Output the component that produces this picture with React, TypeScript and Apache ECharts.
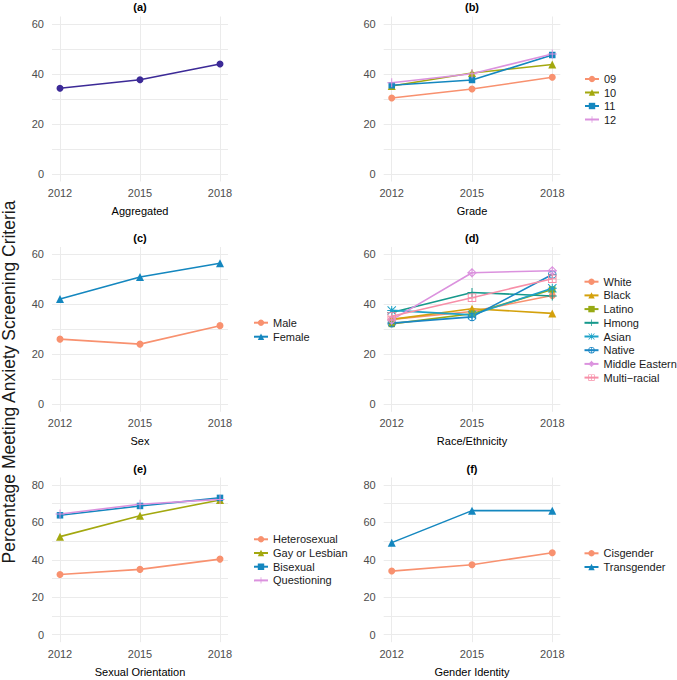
import React, { useEffect, useRef } from "react";
import * as echarts from "echarts";

// ---------- data ----------
const years = [2012, 2015, 2018];
const yLabels60 = [0, 20, 40, 60];
const yLabels80 = [0, 20, 40, 60, 80];
const yGrid60 = [0, 10, 20, 30, 40, 50, 60];
const yGrid80 = [0, 10, 20, 30, 40, 50, 60, 70, 80];

const aggregated = [34.3, 37.7, 44.0];

const gradeNames = ["09", "10", "11", "12"];
const grade09 = [30.4, 34.0, 38.7];
const grade10 = [35.2, 40.4, 43.8];
const grade11 = [35.5, 37.6, 47.6];
const grade12 = [36.5, 40.1, 48.0];

const sexNames = ["Male", "Female"];
const male = [26.1, 24.1, 31.5];
const female = [42.2, 51.0, 56.5];

const raceNames = ["White", "Black", "Latino", "Hmong", "Asian", "Native", "Middle Eastern", "Multi\u2212racial"];
const white = [34.0, 37.2, 43.6];
const black = [34.0, 38.3, 36.4];
const latino = [32.2, 36.3, 46.0];
const hmong = [36.8, 44.8, 43.4];
const asian = [37.6, 35.8, 46.5];
const native = [32.5, 35.0, 52.0];
const middleEastern = [33.8, 52.7, 53.5];
const multiRacial = [35.3, 42.7, 50.3];

const orientNames = ["Heterosexual", "Gay or Lesbian", "Bisexual", "Questioning"];
const heterosexual = [32.2, 34.9, 40.4];
const gayLesbian = [52.4, 63.6, 72.0];
const bisexual = [63.8, 68.8, 73.1];
const questioning = [64.5, 69.7, 72.3];

const genderNames = ["Cisgender", "Transgender"];
const cisgender = [34.0, 37.4, 43.8];
const transgender = [49.2, 66.3, 66.3];

const panelTitles = ["(a)", "(b)", "(c)", "(d)", "(e)", "(f)"];
const axisNames = ["Aggregated", "Grade", "Sex", "Race/Ethnicity", "Sexual Orientation", "Gender Identity"];
const yTitle = "Percentage Meeting Anxiety Screening Criteria";

// ---------- styles ----------
const FONT = '"Liberation Sans", Arial, Helvetica, sans-serif';
const PURPLE = "#3c2a97";
const SALMON = "#f8916f";
const OLIVE = "#a3a80f";
const BLUE = "#1487bf";
const VIOLET = "#db92de";
const GOLD = "#d4a10c";
const LGREEN = "#97aa14";
const TEAL = "#16998c";
const CYAN = "#1ca2c8";
const NBLUE = "#1a87c5";
const PINK = "#f78fa8";
const GRID = "#ebebeb";

const PLUS = "M8.9,0H11.1V8.9H20V11.1H11.1V20H8.9V11.1H0V8.9H8.9Z";
const SYM_PLUS = "path://" + PLUS;
const SYM_STAR =
  "path://" + PLUS + "M1.56,0L20,18.44L18.44,20L0,1.56ZM18.44,0L20,1.56L1.56,20L0,18.44Z";
const SYM_CPLUS =
  "path://M10,0A10,10,0,1,1,10,20A10,10,0,1,1,10,0ZM10,2.2A7.8,7.8,0,1,0,10,17.8A7.8,7.8,0,1,0,10,2.2Z" + PLUS;
const SYM_DPLUS = "path://M10,0L20,10L10,20L0,10ZM10,3.11L3.11,10L10,16.89L16.89,10Z" + PLUS;
const SYM_SPLUS = "path://M0,0H20V20H0ZM2.2,2.2V17.8H17.8V2.2Z" + PLUS;

const SHAPES: Record<string, [string, number]> = {
  circle: ["circle", 7],
  triangle: ["triangle", 8],
  square: ["rect", 6.5],
  plus: [SYM_PLUS, 9],
  star: [SYM_STAR, 9],
  cplus: [SYM_CPLUS, 8.5],
  dplus: [SYM_DPLUS, 9.5],
  splus: [SYM_SPLUS, 8.5],
};

const grids = [
  { left: 52, top: 16.5, width: 176, height: 165 },
  { left: 383.7, top: 16.5, width: 176.6, height: 165 },
  { left: 52, top: 247, width: 176, height: 164.8 },
  { left: 383.7, top: 247, width: 176.6, height: 164.8 },
  { left: 52, top: 477.5, width: 176, height: 164.7 },
  { left: 383.7, top: 477.5, width: 176.6, height: 164.7 },
];

function mkSeries(name: string, values: number[], idx: number, color: string, shape: string) {
  const [symbol, size] = SHAPES[shape];
  return {
    name,
    type: "line",
    xAxisIndex: idx,
    yAxisIndex: idx,
    data: years.map((y, i) => [y, values[i]]),
    symbol,
    symbolSize: size,
    showSymbol: true,
    lineStyle: { color, width: 1.6 },
    itemStyle: { color, borderWidth: 0 },
    emphasis: { disabled: true },
    z: 3,
  };
}

const ICON_H = 8;
const TEXT_H = 12;
function mkLegend(names: string[], left: number, firstRowCenter: number, rowStep: number) {
  return {
    data: names,
    orient: "vertical",
    left,
    top: firstRowCenter - TEXT_H / 2,
    padding: 0,
    itemWidth: 14,
    itemHeight: ICON_H,
    itemGap: rowStep - TEXT_H,
    selectedMode: false,
    textStyle: { fontSize: 11, lineHeight: TEXT_H, fontFamily: FONT, color: "#1a1a1a" },
  };
}

export default function App() {
  const ref = useRef<HTMLDivElement>(null);
  useEffect(() => {
    if (!ref.current) return;
    const chart = echarts.init(ref.current, undefined, { renderer: "svg" });

    const xAxes = grids.map((_, i) => ({
      type: "value",
      gridIndex: i,
      min: 2011.7,
      max: 2018.3,
      name: axisNames[i],
      nameLocation: "middle",
      nameGap: 24,
      nameTextStyle: { fontSize: 11, fontFamily: FONT, color: "#000" },
      axisLine: { show: false },
      axisTick: { show: false, customValues: years },
      axisLabel: {
        customValues: years,
        formatter: (v: number) => String(v),
        fontSize: 11,
        fontFamily: FONT,
        color: "#4d4d4d",
        margin: 6,
      },
      splitLine: { show: true, lineStyle: { color: GRID, width: 1 } },
    }));
    const yAxes = grids.map((_, i) => {
      const big = i >= 4;
      return {
        type: "value",
        gridIndex: i,
        min: big ? -4 : -3,
        max: big ? 84 : 63,
        axisLine: { show: false },
        axisTick: { show: false, customValues: big ? yGrid80 : yGrid60 },
        axisLabel: {
          customValues: big ? yLabels80 : yLabels60,
          formatter: (v: number) => String(v),
          fontSize: 11,
          fontFamily: FONT,
          color: "#4d4d4d",
          margin: 8,
        },
        splitLine: { show: true, lineStyle: { color: GRID, width: 1 } },
      };
    });

    const series = [
      mkSeries("Aggregated", aggregated, 0, PURPLE, "circle"),
      mkSeries(gradeNames[0], grade09, 1, SALMON, "circle"),
      mkSeries(gradeNames[1], grade10, 1, OLIVE, "triangle"),
      mkSeries(gradeNames[2], grade11, 1, BLUE, "square"),
      mkSeries(gradeNames[3], grade12, 1, VIOLET, "plus"),
      mkSeries(sexNames[0], male, 2, SALMON, "circle"),
      mkSeries(sexNames[1], female, 2, BLUE, "triangle"),
      mkSeries(raceNames[0], white, 3, SALMON, "circle"),
      mkSeries(raceNames[1], black, 3, GOLD, "triangle"),
      mkSeries(raceNames[2], latino, 3, LGREEN, "square"),
      mkSeries(raceNames[3], hmong, 3, TEAL, "plus"),
      mkSeries(raceNames[4], asian, 3, CYAN, "star"),
      mkSeries(raceNames[5], native, 3, NBLUE, "cplus"),
      mkSeries(raceNames[6], middleEastern, 3, VIOLET, "dplus"),
      mkSeries(raceNames[7], multiRacial, 3, PINK, "splus"),
      mkSeries(orientNames[0], heterosexual, 4, SALMON, "circle"),
      mkSeries(orientNames[1], gayLesbian, 4, OLIVE, "triangle"),
      mkSeries(orientNames[2], bisexual, 4, BLUE, "square"),
      mkSeries(orientNames[3], questioning, 4, VIOLET, "plus"),
      mkSeries(genderNames[0], cisgender, 5, SALMON, "circle"),
      mkSeries(genderNames[1], transgender, 5, BLUE, "triangle"),
    ];

    const titleY = [7, 7, 237.5, 237.5, 469, 469];
    const graphic: any[] = grids.map((g, i) => ({
      type: "text",
      x: g.left + g.width / 2,
      y: titleY[i],
      style: {
        text: panelTitles[i],
        fontSize: 11,
        fontWeight: "bold",
        fontFamily: FONT,
        fill: "#000",
        align: "center",
        verticalAlign: "middle",
        textAlign: "center",
        textVerticalAlign: "middle",
      },
    }));
    graphic.push({
      type: "text",
      x: 9,
      y: 382,
      rotation: Math.PI / 2,
      style: {
        text: yTitle,
        fontSize: 17.5,
        fontFamily: FONT,
        fill: "#1a1a1a",
        align: "center",
        verticalAlign: "middle",
        textAlign: "center",
        textVerticalAlign: "middle",
      },
    });

    chart.setOption({
      animation: false,
      backgroundColor: "#ffffff",
      textStyle: { fontFamily: FONT },
      grid: grids.map((g) => ({ ...g, containLabel: false })),
      xAxis: xAxes,
      yAxis: yAxes,
      legend: [
        mkLegend(gradeNames, 584, 79, 13.5),
        mkLegend(sexNames, 253, 322.7, 14),
        mkLegend(raceNames, 583.5, 281.7, 13.7),
        mkLegend(orientNames, 253, 539.3, 13.7),
        mkLegend(genderNames, 583.5, 553.3, 13.7),
      ],
      series,
      graphic,
    });
    return () => chart.dispose();
  }, []);
  return (
    <div
      ref={ref}
      style={{ position: "absolute", left: 0, top: 0, width: 677, height: 680, background: "#fff" }}
    />
  );
}
